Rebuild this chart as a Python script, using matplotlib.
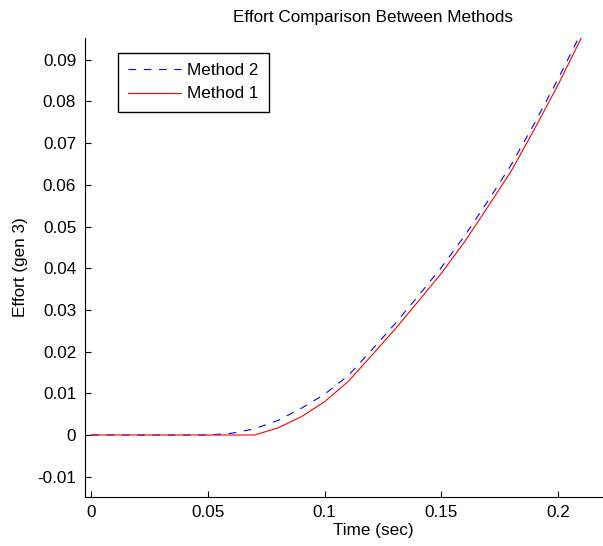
import matplotlib
matplotlib.use("Agg")
import matplotlib.pyplot as plt

plt.rcParams['font.family'] = ['Liberation Sans', 'DejaVu Sans']
plt.rcParams['lines.scale_dashes'] = False

# Simulation time samples (s)
time = [0.00, 0.01, 0.02, 0.03, 0.04, 0.05, 0.06, 0.07, 0.08, 0.09, 0.10,
        0.11, 0.12, 0.13, 0.14, 0.15, 0.16, 0.17, 0.18, 0.19, 0.20, 0.21]

# Generator 3 effort for each method
effort_method2 = [0, 0, 0, 0, 0, 0, 0.0004, 0.0015, 0.0035, 0.0064, 0.0098,
                  0.0142, 0.0203, 0.0266, 0.0333, 0.0402, 0.0478, 0.0562,
                  0.0649, 0.0749, 0.0854, 0.0966]
effort_method1 = [0, 0, 0, 0, 0, 0, 0, 0, 0.0017, 0.0044, 0.0080,
                  0.0128, 0.0190, 0.0253, 0.0320, 0.0388, 0.0464, 0.0548,
                  0.0634, 0.0735, 0.0840, 0.0953]

xticks = [0, 0.05, 0.1, 0.15, 0.2]
xticklabels = ['0', '0.05', '0.1', '0.15', '0.2']
yticks = [-0.01, 0, 0.01, 0.02, 0.03, 0.04, 0.05, 0.06, 0.07, 0.08, 0.09]
yticklabels = ['-0.01', '0', '0.01', '0.02', '0.03', '0.04', '0.05',
               '0.06', '0.07', '0.08', '0.09']

FS = 12.3
W, H = 603, 546
fig = plt.figure(figsize=(W / 100, H / 100), dpi=100)
ax = fig.add_axes([84.5 / W, 1 - 497 / H, (661.5 - 84.5) / W, (497 - 37.7) / H])

ax.plot(time, effort_method2, color='#0000ff', lw=0.8, dashes=(5.5, 5.5),
        label='Method 2')
ax.plot(time, effort_method1, color='#ff0000', lw=0.8, label='Method 1')

ax.set_xlim(-0.0029, 0.2443)
ax.set_ylim(-0.01487, 0.0953)
ax.set_xticks(xticks)
ax.set_xticklabels(xticklabels)
ax.set_yticks(yticks)
ax.set_yticklabels(yticklabels)

for side in ('top', 'right'):
    ax.spines[side].set_visible(False)
for side in ('left', 'bottom'):
    ax.spines[side].set_linewidth(0.8)
    ax.spines[side].set_color('black')

ax.tick_params(direction='in', length=4.5, width=0.8, labelsize=FS,
               colors='black', pad=6)

ax.set_title('Effort Comparison Between Methods', fontsize=FS, pad=11)
ax.set_xlabel('Time (sec)', fontsize=FS, labelpad=2)
ax.set_ylabel('Effort (gen 3)', fontsize=FS, labelpad=7)

leg = ax.legend(loc='upper left', bbox_to_anchor=(117.7 / W, 1 - 52.7 / H),
                bbox_transform=fig.transFigure, fontsize=FS, frameon=True,
                fancybox=False, edgecolor='black', framealpha=1,
                handlelength=3.1, handletextpad=0.35, borderpad=0.6,
                labelspacing=0.5, borderaxespad=0)
leg.get_frame().set_linewidth(1.0)

fig.savefig('out.png', dpi=100)
